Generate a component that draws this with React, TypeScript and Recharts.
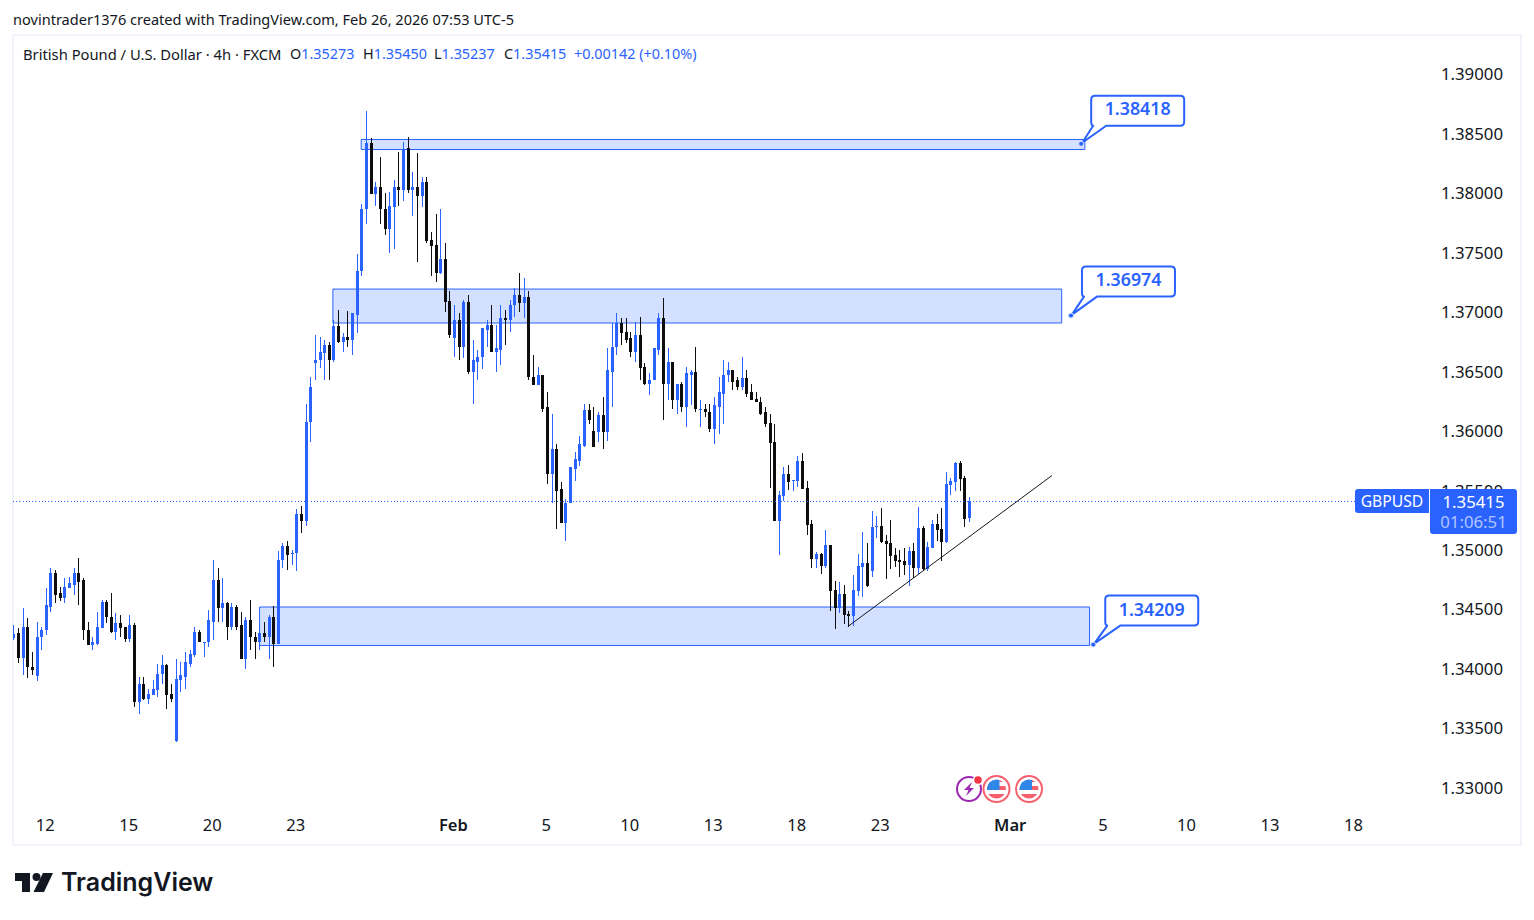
import { Bar, ComposedChart, ReferenceArea, ReferenceDot, ReferenceLine, XAxis, YAxis } from 'recharts'

const BLUE = '#2962ff'
const BLACK = '#0e0e0e'
const INK = '#131722'
const FONT = '"Noto Sans", sans-serif'

// GBPUSD 4h, prices in 1/100000
const opens = [
  134266, 134303, 134095, 134353, 134025, 133944, 134269, 134328, 134529, 134815,
  134639, 134597, 134689, 134714, 134807, 134748, 134336, 134202, 134218, 134345,
  134571, 134445, 134311, 134387, 134353, 134260, 134370, 133723, 133874, 133748,
  133782, 133824, 133958, 134034, 133790, 133403, 133908, 133941, 134050, 134126,
  134311, 134227, 134227, 134403, 134748, 134513, 134563, 134361, 134521, 134370,
  134092, 134420, 134277, 134235, 134303, 134277, 134437, 134218, 134916, 135034,
  134975, 134975, 135303, 135244, 136076, 136572, 136597, 136656, 136723, 136605,
  136883, 136756, 136798, 136773, 136983, 137345, 137866, 138421, 137992, 138051,
  137874, 137698, 137883, 138051, 138026, 138379, 138026, 138059, 137975, 138093,
  137606, 137564, 137328, 137446, 137093, 136782, 136933, 136714, 137092, 136504,
  136588, 136622, 136857, 136891, 136664, 136689, 136958, 136933, 137059, 137151,
  137076, 137134, 136462, 136387, 136479, 136202, 135647, 135849, 135513, 135235,
  135395, 135689, 135756, 135882, 136177, 136008, 136000, 136135, 136000, 136504,
  136706, 136908, 136840, 136782, 136672, 136815, 136538, 136403, 136429, 136689,
  136958, 136403, 136580, 136261, 136403, 136210, 136479, 136496, 136185, 136193,
  136168, 136025, 136210, 136319, 136471, 136513, 136429, 136378, 136446, 136328,
  136269, 136252, 136160, 136068, 135908, 135247, 135454, 135639, 135580, 135580,
  135748, 135522, 135219, 134925, 134967, 134866, 135043, 134664, 134513, 134631,
  134463, 134446, 134656, 134858, 134891, 134824, 135194, 135202, 135076, 135059,
  134959, 134917, 134908, 134875, 134992, 134849, 135185, 134841, 135017, 135219,
  135177, 135068, 135547, 135572, 135732, 135606, 135273,
]
const highs = [
  134378, 134345, 134513, 134429, 134143, 134403, 134361, 134689, 134857, 134832,
  134697, 134765, 134781, 134857, 134941, 134773, 134403, 134277, 134479, 134588,
  134588, 134639, 134471, 134462, 134353, 134454, 134387, 133941, 133941, 133832,
  133908, 134050, 134126, 134050, 133874, 134084, 134059, 134151, 134168, 134353,
  134336, 134235, 134496, 134916, 134849, 134773, 134571, 134563, 134546, 134487,
  134445, 134588, 134319, 134378, 134395, 134462, 134530, 134992, 135067, 135084,
  135008, 135345, 135370, 136227, 136454, 136807, 136798, 136765, 136756, 136933,
  137017, 136824, 137009, 137000, 137488, 137908, 138690, 138463, 138101, 138311,
  138001, 138009, 138110, 138353, 138437, 138479, 138177, 138337, 138135, 138143,
  137673, 137832, 137874, 137580, 137185, 137059, 137000, 137109, 137151, 136765,
  136681, 136866, 136941, 137059, 136899, 137067, 137025, 137101, 137202, 137328,
  137294, 137177, 136639, 136538, 136479, 136328, 136151, 135891, 135572, 135429,
  135698, 135824, 135966, 136235, 136227, 136202, 136168, 136286, 136698, 136916,
  137000, 136958, 136958, 136840, 136924, 136966, 136572, 136488, 136698, 136992,
  137118, 136698, 136588, 136403, 136420, 136538, 136521, 136714, 136261, 136235,
  136235, 136294, 136454, 136597, 136588, 136513, 136454, 136622, 136521, 136403,
  136328, 136286, 136202, 136143, 136059, 135496, 135698, 135715, 135589, 135790,
  135816, 135580, 135253, 134984, 134975, 135169, 135043, 134740, 134732, 134706,
  134488, 134790, 134967, 135152, 135059, 135328, 135286, 135353, 135127, 135253,
  135017, 135001, 135017, 135026, 135059, 135362, 135202, 135068, 135253, 135303,
  135353, 135656, 135606, 135740, 135748, 135622, 135450,
]
const lows = [
  134244, 134053, 133952, 133927, 133952, 133902, 134160, 134294, 134482, 134555,
  134574, 134555, 134689, 134622, 134538, 134252, 134202, 134168, 134210, 134345,
  134387, 134303, 134244, 134277, 134235, 134235, 133689, 133622, 133740, 133706,
  133782, 133765, 133882, 133664, 133731, 133387, 133815, 133840, 134017, 134101,
  134227, 134101, 134193, 134252, 134395, 134403, 134252, 134328, 134328, 134084,
  134008, 134160, 134092, 134168, 134227, 134092, 134017, 134218, 134857, 134840,
  134882, 134824, 135143, 135202, 135916, 136429, 136530, 136429, 136429, 136580,
  136740, 136672, 136714, 136639, 136832, 137311, 137748, 137992, 137891, 137748,
  137648, 137496, 137530, 137891, 137933, 138001, 137807, 137421, 137883, 137580,
  137311, 137253, 137320, 137001, 136790, 136622, 136605, 136614, 136487, 136227,
  136437, 136529, 136714, 136664, 136504, 136563, 136731, 136840, 136966, 137008,
  136950, 136429, 136387, 136387, 136160, 135563, 135403, 135177, 135235, 135084,
  135395, 135580, 135714, 135874, 136067, 135866, 135908, 135857, 135924, 136210,
  136639, 136723, 136740, 136630, 136580, 136437, 136387, 136311, 136429, 136639,
  136093, 136261, 136185, 136151, 136168, 136042, 136219, 136160, 136042, 136118,
  135992, 135899, 135983, 136067, 136412, 136353, 136353, 136353, 136286, 136261,
  136244, 136135, 136034, 135522, 135247, 134959, 135412, 135505, 135496, 135530,
  135513, 135127, 134849, 134849, 134799, 134849, 134488, 134337, 134471, 134379,
  134353, 134362, 134614, 134606, 134690, 134774, 135101, 135059, 134757, 134841,
  134858, 134774, 134790, 134698, 134765, 134799, 134832, 134824, 135017, 135076,
  134908, 135059, 135463, 135496, 135496, 135194, 135237,
]
const closes = [
  134300, 134095, 134353, 134020, 133994, 134277, 134336, 134538, 134815, 134630,
  134597, 134697, 134723, 134807, 134739, 134328, 134202, 134227, 134353, 134571,
  134437, 134311, 134387, 134345, 134260, 134370, 133723, 133874, 133748, 133790,
  133832, 133966, 134034, 133782, 133756, 133916, 133950, 134059, 134134, 134311,
  134227, 134235, 134412, 134748, 134513, 134563, 134361, 134521, 134361, 134092,
  134420, 134269, 134235, 134303, 134277, 134437, 134218, 134924, 135034, 134966,
  134983, 135303, 135244, 136084, 136378, 136605, 136664, 136723, 136605, 136883,
  136756, 136798, 136773, 136992, 137353, 137874, 138421, 137992, 138051, 137866,
  137698, 137891, 138051, 138026, 138370, 138026, 138059, 137975, 138093, 137597,
  137555, 137328, 137446, 137085, 136815, 136933, 136714, 137092, 136504, 136597,
  136630, 136866, 136891, 136664, 136698, 136958, 136933, 137067, 137151, 137076,
  137134, 136454, 136387, 136479, 136193, 135647, 135849, 135504, 135235, 135403,
  135698, 135765, 135891, 136177, 136093, 135866, 136135, 136000, 136513, 136714,
  136916, 136832, 136773, 136672, 136815, 136530, 136403, 136437, 136698, 136958,
  136403, 136580, 136261, 136403, 136210, 136488, 136496, 136185, 136193, 136160,
  136025, 136219, 136328, 136479, 136513, 136420, 136378, 136446, 136319, 136261,
  136244, 136151, 136059, 135900, 135247, 135463, 135639, 135572, 135589, 135748,
  135513, 135211, 134925, 134967, 134866, 135043, 134656, 134513, 134631, 134454,
  134446, 134664, 134866, 134891, 134698, 135194, 135202, 135068, 135051, 134950,
  134908, 134900, 134875, 134992, 134849, 135185, 134841, 135026, 135219, 135169,
  135068, 135555, 135580, 135732, 135597, 135261, 135415,
]

const priceTicks = [1.33, 1.335, 1.34, 1.345, 1.35, 1.355, 1.36, 1.365, 1.37, 1.375, 1.38, 1.385, 1.39]
const dateTicks = [7, 25, 43, 61, 95, 115, 133, 151, 169, 187, 215, 235, 253, 271, 289]
const dateLabels = ['12', '15', '20', '23', 'Feb', '5', '10', '13', '18', '23', 'Mar', '5', '10', '13', '18']

const lastPrice = 1.35415
// [start bar, end bar, top, bottom]
const zones = [
  [74.9, 230.9, 1.38454, 1.3837],
  [68.8, 225.9, 1.37197, 1.36912],
  [53, 231.9, 1.34525, 1.34202],
]
// [bar, price]
const callouts = [
  [230.1, 1.38418],
  [227.9, 1.36974],
  [232.7, 1.34209],
]
const trendFrom = { x: 179.8, y: 1.34361 }
const trendTo = { x: 223.8, y: 1.3563 }

const candles = opens.map((o, i) => ({
  bar: i,
  open: o / 100000,
  high: highs[i] / 100000,
  low: lows[i] / 100000,
  close: closes[i] / 100000,
  range: [lows[i] / 100000, highs[i] / 100000],
}))

function Candle({ x, y, width, height, payload }: any) {
  const up = payload.close >= payload.open
  const color = up ? BLUE : BLACK
  const perPrice = height / (payload.high - payload.low)
  const top = y + (payload.high - Math.max(payload.open, payload.close)) * perPrice
  const bottom = y + (payload.high - Math.min(payload.open, payload.close)) * perPrice
  const cx = Math.floor(x + width / 2)
  return (
    <g shapeRendering="crispEdges">
      <rect x={cx} y={y} width={1} height={height} fill={color} />
      <rect x={cx - 1} y={top} width={3} height={Math.max(bottom - top, 1)} fill={color} />
    </g>
  )
}

function Callout({ cx, cy, value, dx, dy, textY }: any) {
  const x = cx + dx
  const y = cy + dy
  const w = 93
  const h = 30
  const d = `M${x + 4} ${y} H${x + w - 4} Q${x + w} ${y} ${x + w} ${y + 4} V${y + h - 4} Q${x + w} ${y + h} ${x + w - 4} ${y + h} H${x + 15} L${cx + 1} ${cy - 1} L${x + 2} ${y + h} Q${x} ${y + h} ${x} ${y + h - 4} V${y + 4} Q${x} ${y} ${x + 4} ${y} Z`
  return (
    <g>
      <path d={d} fill="#fff" stroke={BLUE} strokeWidth={2} strokeLinejoin="round" />
      <circle cx={cx} cy={cy} r={2.5} fill={BLUE} stroke="#dbe5ff" strokeWidth={1} />
      <text x={x + w / 2} y={y + textY} textAnchor="middle" fontFamily={FONT} fontSize={17.8} fontWeight={600} fill={BLUE}>
        {value.toFixed(5)}
      </text>
    </g>
  )
}

function DateTick({ x, y, payload }: any) {
  const label = dateLabels[dateTicks.indexOf(payload.value)]
  const bold = label === 'Feb' || label === 'Mar'
  return (
    <text x={x - 1} y={y + 7.5} textAnchor="middle" dominantBaseline="central" fontFamily={FONT} fontSize={16.5} fontWeight={bold ? 600 : 400} fill={INK}>
      {label}
    </text>
  )
}

function PriceTick({ y, payload }: any) {
  return (
    <text x={1503} y={y - 1} textAnchor="end" dominantBaseline="central" fontFamily={FONT} fontSize={16.8} fill={INK}>
      {payload.value.toFixed(5)}
    </text>
  )
}

function Flag({ cx, id }: { cx: number; id: string }) {
  const cy = 789
  return (
    <g>
      <clipPath id={id}>
        <circle cx={cx} cy={cy} r={9.5} />
      </clipPath>
      <circle cx={cx} cy={cy} r={13} fill="#fff" stroke="#f5606c" strokeWidth={2} />
      <g clipPath={`url(#${id})`}>
        <rect x={cx - 10} y={cy - 10} width={20} height={20} fill="#fff" />
        <rect x={cx - 10} y={cy - 3} width={20} height={4} fill="#f5606c" />
        <rect x={cx - 10} y={cy + 5} width={20} height={5} fill="#f5606c" />
        <rect x={cx + 3} y={cy - 10} width={7} height={3} fill="#f5606c" />
        <rect x={cx - 10} y={cy - 10} width={13} height={11} fill="#2f86e6" />
      </g>
    </g>
  )
}

function Overlay() {
  return (
    <svg width={1534} height={920} style={{ position: 'absolute', left: 0, top: 0, pointerEvents: 'none' }}>
      <circle cx={969} cy={789} r={12} fill="#fff" stroke="#9c27b0" strokeWidth={2} />
      <path d="M972 782 L964 790 H968.5 L966 796 L974 788 H969.5 Z" fill="#9c27b0" />
      <circle cx={978} cy={780} r={4.5} fill="#f23645" stroke="#fff" strokeWidth={1.5} />
      <Flag cx={996.5} id="flagA" />
      <Flag cx={1029} id="flagB" />
      <path d="M15 873 H30 V892 H22 V881 H15 Z" fill={INK} />
      <circle cx={36.5} cy={877} r={4} fill={INK} />
      <path d="M43 873 H53 L44 892 H33.5 Z" fill={INK} />
      <text x={61} y={891} fontFamily="Inter, sans-serif" fontSize={25} fontWeight={600} fill={INK}>
        TradingView
      </text>
    </svg>
  )
}

const absText = { position: 'absolute', whiteSpace: 'nowrap', fontFamily: FONT } as const
const legendRow = { ...absText, top: 44, fontSize: 14.4, lineHeight: '20px', color: INK } as const
const calloutOffsets = [[10, -48, 19], [11, -49, 19], [12, -49, 20.5]]

export default function App() {
  return (
    <div style={{ position: 'absolute', left: 0, top: 0, width: 1534, height: 920, background: '#fff', overflow: 'hidden' }}>
      <div style={{ position: 'absolute', left: 12, top: 34, width: 1506, height: 808, border: '2px solid #f0f3fa' }} />
      <div style={{ ...absText, left: 13, top: 10, fontSize: 14.55, lineHeight: '19px', color: INK }}>
        novintrader1376 created with TradingView.com, Feb 26, 2026 07:53 UTC-5
      </div>
      <div style={{ ...legendRow, left: 23, fontSize: 14.75 }}>British Pound / U.S. Dollar · 4h · FXCM</div>
      <div style={{ ...legendRow, left: 290 }}>O<span style={{ color: BLUE }}>1.35273</span></div>
      <div style={{ ...legendRow, left: 363 }}>H<span style={{ color: BLUE }}>1.35450</span></div>
      <div style={{ ...legendRow, left: 434 }}>L<span style={{ color: BLUE }}>1.35237</span></div>
      <div style={{ ...legendRow, left: 504 }}>C<span style={{ color: BLUE }}>1.35415</span></div>
      <div style={{ ...legendRow, left: 574, color: BLUE }}>+0.00142 (+0.10%)</div>
      <div style={{ position: 'absolute', left: 0, top: 0 }}>
        <ComposedChart width={1534} height={846.5} data={candles} margin={{ top: 35.5, right: 13, bottom: 0, left: 13 }}>
          <XAxis
            dataKey="bar"
            type="number"
            domain={[-0.15, 303.35]}
            allowDataOverflow
            ticks={dateTicks}
            interval={0}
            height={36}
            axisLine={false}
            tickLine={false}
            tick={<DateTick />}
            tickMargin={0}
          />
          <YAxis
            orientation="right"
            type="number"
            domain={[1.32815, 1.39328]}
            allowDataOverflow
            ticks={priceTicks}
            interval={0}
            width={100}
            axisLine={false}
            tickLine={false}
            tick={<PriceTick />}
          />
          <ReferenceLine
            segment={[{ x: -0.15, y: lastPrice }, { x: 289.3, y: lastPrice }]}
            stroke={BLUE}
            strokeWidth={1}
            strokeDasharray="1 2.2"
            shapeRendering="crispEdges"
            ifOverflow="visible"
          />
          <Bar dataKey="range" barSize={3} shape={<Candle />} isAnimationActive={false} />
          {zones.map((z, i) => (
            <ReferenceArea key={i} x1={z[0]} x2={z[1]} y1={z[2]} y2={z[3]} fill={BLUE} fillOpacity={0.2} stroke={BLUE} strokeOpacity={1} strokeWidth={1} ifOverflow="visible" />
          ))}
          <ReferenceLine segment={[trendFrom, trendTo]} stroke={INK} strokeWidth={1} ifOverflow="visible" />
          {callouts.map((c, i) => (
            <ReferenceDot key={i} x={c[0]} y={c[1]} r={3} ifOverflow="visible" shape={(p: any) => <Callout cx={p.cx} cy={p.cy} value={c[1]} dx={calloutOffsets[i][0]} dy={calloutOffsets[i][1]} textY={calloutOffsets[i][2]} />} />
          ))}
        </ComposedChart>
      </div>
      <div style={{ ...absText, left: 1355, top: 489, width: 74, height: 24, lineHeight: '24px', background: BLUE, color: '#fff', fontSize: 15.7, textAlign: 'center', borderRadius: '3px 0 0 3px' }}>
        GBPUSD
      </div>
      <div style={{ ...absText, left: 1430, top: 489, width: 87, height: 45, background: BLUE, color: '#fff', fontSize: 16.8, textAlign: 'center', borderRadius: '0 3px 3px 3px', lineHeight: '20px', paddingTop: 3, boxSizing: 'border-box' }}>
        <div>1.35415</div>
        <div style={{ opacity: 0.62 }}>01:06:51</div>
      </div>
      <Overlay />
    </div>
  )
}
